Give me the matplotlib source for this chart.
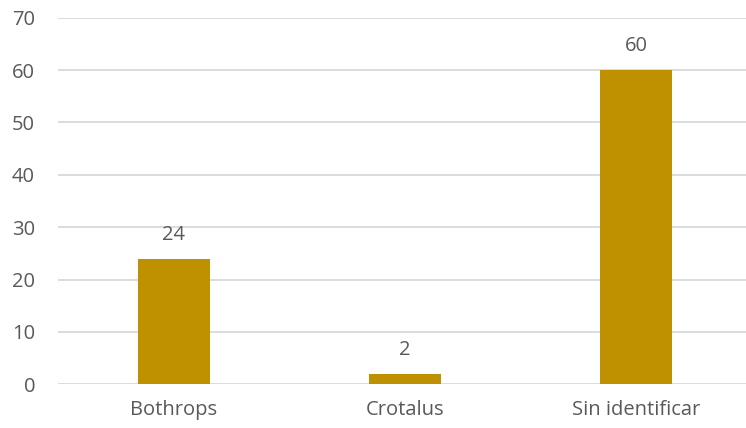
import matplotlib.pyplot as plt

categories = ["Bothrops", "Crotalus", "Sin identificar"]
values = [24, 2, 60]
yticks = [0, 10, 20, 30, 40, 50, 60, 70]

BAR = "#BF9000"
TXT = "#595959"
GRID = "#D9D9D9"
FS = 14.5

plt.rcParams['font.family'] = ['Open Sans', 'DejaVu Sans']

fig = plt.figure(figsize=(7.46, 4.28), dpi=100)
ax = fig.add_axes([58 / 746, 0.1021, 1 - 58 / 746, 0.8565])

x = list(range(len(categories)))
bars = ax.bar(x, values, width=0.312, color=BAR, zorder=3)

for rect, v in zip(bars, values):
    ax.annotate(str(v), (rect.get_x() + rect.get_width() / 2, v),
                xytext=(0, 10), textcoords="offset points",
                ha="center", va="bottom", fontsize=FS, color=TXT)

ax.set_xlim(-0.5, 2.476)
ax.set_ylim(0, 70)
ax.set_yticks(yticks)
ax.set_xticks(x)
ax.set_xticklabels(categories)
ax.yaxis.grid(True, color=GRID, linewidth=1.3, zorder=0)
ax.tick_params(axis="both", length=0, labelsize=FS, colors=TXT)
ax.tick_params(axis="y", pad=16.5)
ax.tick_params(axis="x", pad=11)
for s in ax.spines.values():
    s.set_visible(False)

fig.savefig("out.png", dpi=100)
